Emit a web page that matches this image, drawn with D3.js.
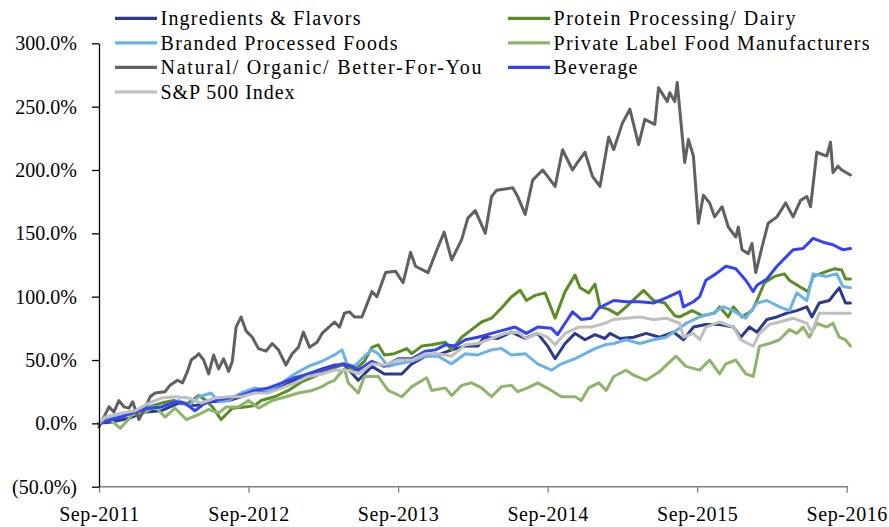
<!DOCTYPE html>
<html>
<head>
<meta charset="utf-8">
<script src="https://cdn.jsdelivr.net/npm/d3@7/dist/d3.min.js"></script>
<style>
  html, body { margin: 0; padding: 0; background: #ffffff; }
  svg { display: block; }
  text { font-family: "Liberation Serif", "Times New Roman", serif; fill: #000; }
</style>
</head>
<body>
<svg id="chart" width="889" height="527"></svg>
<script>
// ---- Data: [months since Sep-2011, cumulative return %] ----
const ingredients = [[0,0],[1.0,1],[2.4,4],[3.7,9],[5.0,10],[6.4,16],[7.7,14],[9.0,17],[10.4,18],[11.4,21],[12.5,25],[13.6,25],[14.7,29],[15.7,34],[16.8,39],[17.9,43],[18.9,46],[19.7,46],[20.8,34],[21.9,45],[22.9,39],[24.3,39],[25.1,47],[26.2,53],[27.2,54],[28.3,58],[29.4,61],[30.4,61],[30.9,68],[32.0,67],[33.1,72],[34.2,67],[35.2,71],[36.0,61],[36.6,51],[37.4,63],[38.2,71],[39.0,66],[39.8,70],[40.6,67],[41.0,71],[41.8,67],[42.9,68],[43.9,71],[45.0,68],[46.1,72],[46.9,66],[47.7,76],[48.7,78],[49.8,78],[50.9,76],[51.5,68],[52.2,76],[52.8,72],[53.6,82],[54.4,84],[55.2,87],[56.0,89],[56.8,92],[57.2,84],[57.8,95],[58.6,97],[59.4,107],[59.9,95],[60.3,95]];
const protein = [[0,0],[1.0,4],[2.0,8],[3.0,9],[4.0,13],[5.0,16],[6.0,18],[7.0,15],[8.0,22],[8.6,18],[9.1,13],[9.8,3],[10.2,7],[10.7,12],[11.7,13],[12.5,14],[13.0,18],[14.1,21],[15.2,26],[16.3,33],[17.3,37],[18.4,42],[19.2,45],[19.7,47],[20.5,42],[21.3,49],[21.9,60],[22.4,62],[22.9,54],[23.7,55],[24.7,59],[25.1,55],[25.9,61],[26.7,62],[27.8,64],[28.3,58],[29.1,68],[29.9,74],[30.7,80],[31.5,83],[32.3,91],[33.1,100],[33.8,105],[34.3,97],[35.0,101],[35.8,103],[36.6,83],[37.4,104],[38.2,117],[38.6,107],[39.3,103],[39.8,110],[40.2,92],[40.9,90],[41.6,86],[42.3,92],[43.7,105],[44.5,97],[45.4,95],[46.2,85],[46.6,84],[47.6,89],[48.4,85],[49.4,87],[49.8,92],[50.5,84],[50.9,92],[51.6,84],[52.4,89],[52.8,97],[53.4,111],[54.2,116],[55.0,118],[55.4,113],[56.2,108],[56.9,104],[57.3,116],[58.4,120],[59.0,122],[59.6,121],[59.9,114],[60.3,114]];
const branded = [[0,0],[1.0,5],[2.4,8],[3.7,13],[5.0,13],[6.4,18],[7.2,14],[8.0,21],[9.0,24],[9.6,17],[10.4,18],[11.4,24],[12.5,28],[13.6,26],[14.7,32],[15.7,39],[16.8,45],[17.9,49],[18.9,54],[19.5,58],[19.9,47],[20.5,45],[21.3,53],[21.9,58],[22.4,55],[23.2,45],[24.0,47],[25.1,49],[26.2,53],[27.2,53],[28.3,47],[29.4,55],[30.4,54],[31.5,58],[32.3,59],[33.1,54],[34.2,55],[35.2,47],[36.3,42],[37.1,47],[38.2,51],[39.0,55],[39.8,59],[40.6,62],[41.3,63],[42.3,66],[43.4,63],[44.5,66],[45.5,68],[46.6,75],[47.1,79],[48.2,84],[49.3,87],[50.1,92],[50.9,89],[51.9,83],[52.8,95],[53.6,97],[54.6,92],[55.4,89],[56.0,103],[56.8,97],[57.3,118],[58.4,116],[59.2,118],[59.7,108],[60.3,107]];
const privateLabel = [[0,-1],[0.8,4],[1.7,-4],[2.7,7],[3.7,9],[4.5,13],[5.3,5],[6.1,12],[7.0,3],[8.0,7],[8.8,11],[9.6,8],[10.2,13],[11.2,13],[12.0,18],[12.8,12],[13.9,18],[15.0,21],[16.0,24],[17.1,26],[17.9,29],[18.4,32],[18.9,34],[19.4,40],[19.7,43],[20.0,32],[20.8,24],[21.3,37],[22.4,37],[23.2,26],[24.3,21],[25.1,29],[26.3,36],[26.7,26],[27.8,28],[28.3,22],[29.1,30],[29.9,32],[30.7,28],[31.5,21],[32.3,29],[33.1,30],[33.6,25],[34.4,28],[35.2,32],[36.3,26],[37.1,21],[38.2,21],[38.7,18],[39.3,28],[40.1,32],[40.7,26],[41.3,37],[42.3,42],[42.9,38],[43.9,34],[45.0,41],[46.3,53],[47.1,45],[48.2,42],[49.0,50],[49.8,39],[50.3,47],[51.1,50],[51.9,39],[52.5,37],[53.0,61],[53.8,63],[54.6,66],[55.4,74],[56.0,71],[56.5,76],[57.0,68],[57.6,79],[58.4,76],[58.9,79],[59.4,68],[59.9,66],[60.3,61]];
const natural = [[0,-3],[0.8,13],[1.2,9],[1.6,18],[2.0,13],[2.4,12],[2.7,17],[3.2,3],[3.7,12],[4.1,21],[4.5,24],[5.3,25],[5.7,30],[6.3,34],[6.7,32],[7.1,41],[7.4,50],[7.8,53],[8.0,55],[8.4,50],[8.8,39],[9.2,54],[9.6,43],[10.0,51],[10.4,41],[10.7,49],[11.0,76],[11.4,84],[11.8,73],[12.3,68],[12.8,59],[13.4,57],[13.9,63],[14.4,58],[15.0,46],[15.5,55],[16.0,60],[16.4,72],[16.9,60],[17.5,64],[17.9,71],[18.9,80],[19.3,76],[19.7,87],[20.1,88],[20.5,84],[21.1,84],[21.9,104],[22.3,100],[23.0,119],[23.8,120],[24.4,111],[25.0,135],[25.4,124],[26.4,119],[27.2,139],[27.7,151],[28.3,129],[29.1,145],[29.6,162],[30.2,168],[31.0,150],[31.5,179],[31.9,184],[33.2,186],[33.6,179],[34.2,165],[34.8,192],[35.6,200],[36.0,195],[36.6,187],[37.2,216],[38.0,200],[38.4,206],[39.0,214],[39.6,195],[40.2,187],[40.9,226],[41.3,216],[42.0,237],[42.6,248],[43.3,220],[43.8,240],[44.6,236],[44.9,265],[45.6,254],[45.8,261],[46.2,254],[46.4,269],[46.6,248],[47.0,206],[47.3,224],[47.7,211],[48.1,158],[48.5,180],[49.0,174],[49.4,163],[50.0,171],[50.5,155],[51.1,147],[51.3,155],[51.6,137],[52.1,134],[52.4,142],[52.7,119],[53.2,139],[53.7,158],[54.4,163],[55.1,174],[55.7,163],[56.3,176],[56.8,179],[57.1,171],[57.3,188],[57.6,214],[58.4,211],[58.7,222],[58.9,198],[59.3,203],[59.6,200],[60.3,196]];
const beverage = [[0,0],[1.0,3],[1.8,5],[2.9,9],[4.0,12],[5.0,13],[6.1,17],[6.9,16],[7.7,10],[8.5,16],[9.3,18],[10.4,20],[11.4,22],[12.5,26],[13.6,28],[14.7,32],[15.7,36],[16.8,39],[17.9,42],[18.9,45],[19.5,47],[20.3,45],[20.8,42],[21.9,49],[22.9,45],[24.0,51],[25.1,51],[26.2,57],[27.0,58],[27.8,62],[28.6,61],[29.4,66],[30.4,68],[31.5,71],[32.6,74],[33.4,76],[34.3,71],[35.2,76],[36.3,75],[36.8,70],[37.4,79],[38.0,88],[38.7,82],[39.5,83],[40.1,91],[41.3,97],[42.3,96],[43.4,96],[44.5,95],[45.5,99],[46.6,104],[46.9,92],[47.7,96],[48.2,100],[48.7,113],[49.5,118],[50.3,124],[51.1,122],[51.9,113],[52.5,104],[52.8,109],[53.6,114],[54.4,124],[55.2,132],[55.7,137],[56.5,138],[57.3,146],[58.1,143],[58.9,141],[59.7,137],[60.3,138]];
const sp500 = [[0,0],[0.5,5],[1.8,8],[2.9,10],[4.0,16],[5.0,20],[6.1,21],[7.2,20],[8.2,16],[9.3,20],[10.4,21],[11.4,21],[12.5,24],[13.6,24],[14.7,28],[15.7,32],[16.8,37],[17.9,39],[18.9,42],[20.0,42],[20.8,39],[21.9,47],[22.9,46],[24.0,50],[25.1,50],[26.2,55],[27.2,55],[28.3,53],[29.4,62],[30.4,63],[31.5,67],[32.6,71],[33.6,72],[34.3,67],[35.2,71],[36.0,68],[36.6,62],[37.4,71],[38.5,76],[39.5,76],[40.6,79],[41.3,82],[42.3,83],[43.4,84],[44.5,82],[45.5,83],[46.6,79],[46.9,68],[47.7,71],[48.2,66],[48.7,76],[49.8,80],[50.9,76],[51.5,66],[52.5,61],[53.0,71],[53.8,78],[54.6,80],[55.7,83],[56.8,79],[57.2,72],[57.8,87],[58.9,87],[59.9,87],[60.3,87]];

const seriesNames = ["Ingredients & Flavors","Protein Processing/ Dairy","Branded Processed Foods","Private Label Food Manufacturers","Natural/ Organic/ Better-For-You","Beverage","S&P 500 Index"];
const xTickValues = [0, 12, 24, 36, 48, 60];
const xTickLabels = ["Sep-2011","Sep-2012","Sep-2013","Sep-2014","Sep-2015","Sep-2016"];
const yTickValues = [-50, 0, 50, 100, 150, 200, 250, 300];

// ---- Styling / layout ----
const seriesData = [ingredients, protein, branded, privateLabel, natural, beverage, sp500];
const colors = ["#2B3A8F", "#5A8E22", "#6AB2E8", "#8DB56A", "#606060", "#3444F2", "#BFBFBF"];
const legendTextWidths = [200, 242, 237, 316, 321, 84, 134];

const svg = d3.select("#chart");
const plotLeft = 99, plotRight = 846.7, plotTop = 43.3, plotBottom = 486.7;

const x = d3.scaleLinear().domain([0, 60]).range([plotLeft, plotRight]);
const y = d3.scaleLinear().domain([-50, 300]).range([plotBottom, plotTop]);

// Lines
const line = d3.line().x(d => x(d[0])).y(d => y(d[1]));
const gLines = svg.append("g");
seriesData.forEach((data, i) => {
  gLines.append("path")
    .datum(data)
    .attr("d", line)
    .attr("fill", "none")
    .attr("stroke", colors[i])
    .attr("stroke-width", 3)
    .attr("stroke-linejoin", "round")
    .attr("stroke-linecap", "round");
});

// X axis
const xAxis = d3.axisBottom(x)
  .tickValues(xTickValues)
  .tickFormat((d, i) => xTickLabels[i])
  .tickSize(6)
  .tickPadding(14)
  .tickSizeOuter(0);
const gx = svg.append("g").attr("transform", `translate(0,${plotBottom})`).call(xAxis);
gx.select(".domain").attr("stroke", "#808080").attr("stroke-width", 1.5).attr("d", `M${plotLeft},0H${plotRight + 1.5}`);
gx.selectAll(".tick line").attr("stroke", "#808080").attr("stroke-width", 1.3);
gx.selectAll(".tick text").attr("font-size", 20).attr("font-family", "Liberation Serif")
  .attr("letter-spacing", 0.6).attr("fill", "#000");

// Y axis
const yAxis = d3.axisLeft(y)
  .tickValues(yTickValues)
  .tickFormat(d => d < 0 ? `(${Math.abs(d).toFixed(1)}%)` : `${d.toFixed(1)}%`)
  .tickSize(7)
  .tickPadding(15)
  .tickSizeOuter(0);
const gy = svg.append("g").attr("transform", `translate(${plotLeft},0)`).call(yAxis);
gy.select(".domain").attr("stroke", "#000").attr("stroke-width", 1.3);
gy.selectAll(".tick line").attr("stroke", "#000").attr("stroke-width", 1.3);
gy.selectAll(".tick text").attr("font-size", 20).attr("font-family", "Liberation Serif").attr("fill", "#000");

// Legend (row-major, two columns)
const legendCols = [115, 508];
const legendRow0 = 18.3, legendRowStep = 24.5;
const gLeg = svg.append("g");
seriesNames.forEach((name, i) => {
  const col = i % 2, row = Math.floor(i / 2);
  const lx = legendCols[col], ly = legendRow0 + row * legendRowStep;
  gLeg.append("line")
    .attr("x1", lx).attr("x2", lx + 42)
    .attr("y1", ly).attr("y2", ly)
    .attr("stroke", colors[i]).attr("stroke-width", 3.2);
  gLeg.append("text")
    .attr("x", lx + 45.5).attr("y", ly + 7)
    .attr("font-size", 20)
    .attr("textLength", legendTextWidths[i])
    .attr("lengthAdjust", "spacing")
    .text(name);
});
</script>
</body>
</html>
